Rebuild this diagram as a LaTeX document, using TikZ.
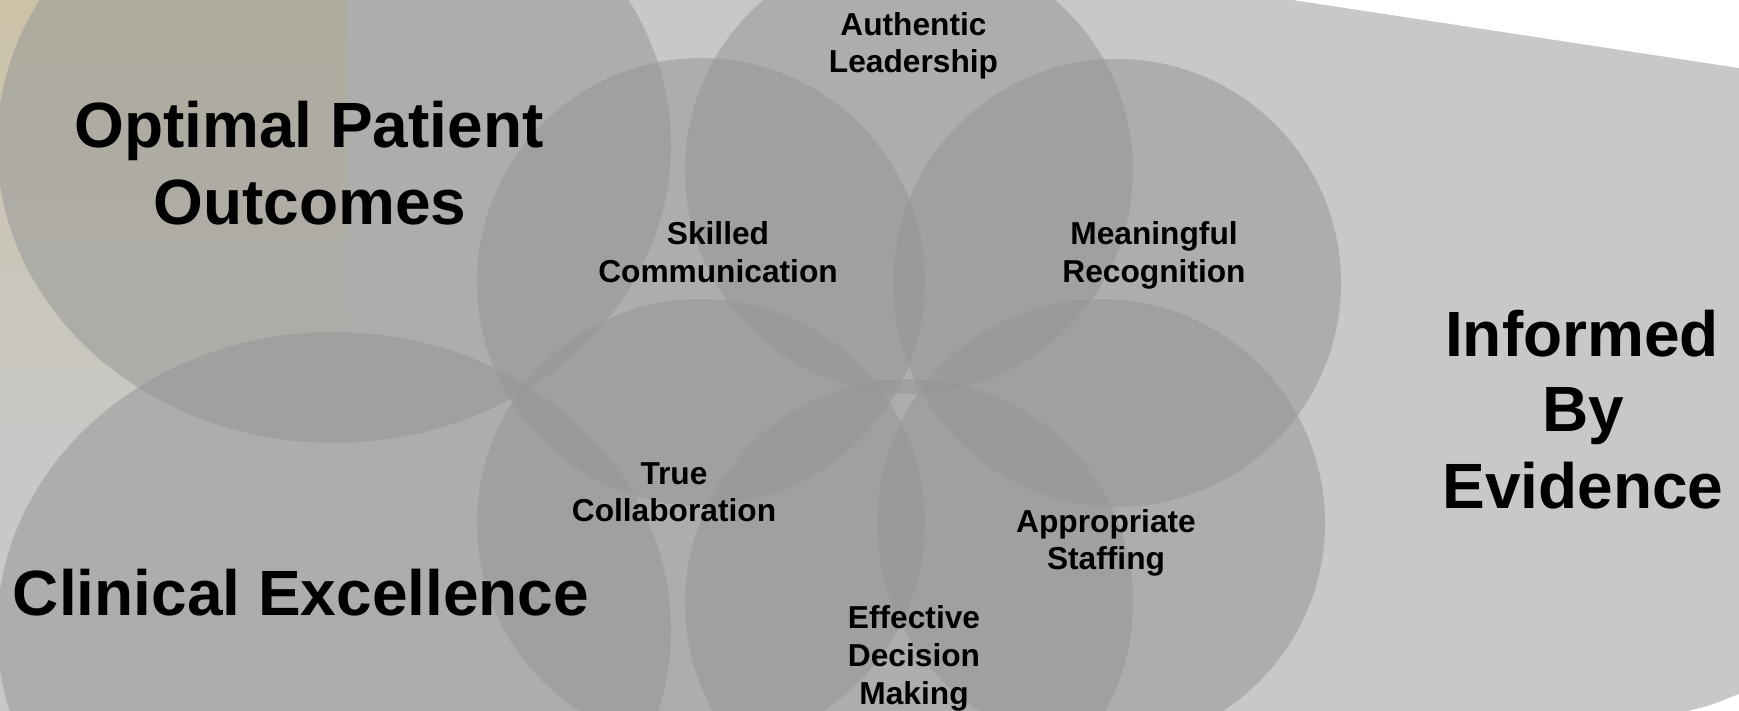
\documentclass[tikz,border=0pt]{standalone}
\usepackage{fontspec}
\setmainfont{Liberation Sans}
\usetikzlibrary{shadings}
\begin{document}
\begin{tikzpicture}[x=0.5pt,y=-0.5pt,
  bigtxt/.style={inner sep=0pt,anchor=base,font=\fontsize{32}{38}\selectfont\bfseries},
  smalltxt/.style={inner sep=0pt,anchor=base,font=\fontsize{15.85}{18}\selectfont\bfseries},
  disc/.style={fill=circfill,fill opacity=0.53}]
\definecolor{bgc}{RGB}{200,200,200}
\definecolor{circfill}{RGB}{150,150,150}
\definecolor{tanA}{RGB}{203,194,167}
\useasboundingbox (0,0) rectangle (1739,711);
\clip (0,0) rectangle (1739,711);
% background
\fill[bgc] (0,0) rectangle (1739,711);
\shade[top color=tanA,bottom color=bgc] (0,0) rectangle (348,470);
\fill[white] (1293,0) -- (1739,0) -- (1739,68) -- cycle;
\fill[white] (1688,711) .. controls (1712,705) .. (1739,694) -- (1739,711) -- cycle;
% large ellipses
\fill[disc] (334,145) ellipse [x radius=168.5pt,y radius=149pt];
\fill[disc] (334,630) ellipse [x radius=168.5pt,y radius=149pt];
% six circles
\fill[disc] (909,170) circle [radius=112pt];
\fill[disc] (701,282) circle [radius=112pt];
\fill[disc] (1117,283) circle [radius=112pt];
\fill[disc] (701,523) circle [radius=112pt];
\fill[disc] (1101,523) circle [radius=112pt];
\fill[disc] (909,603) circle [radius=112pt];
% large labels
\node[bigtxt] (opo1) at (309,148) {Optimal Patient};
\node[bigtxt] (opo2) at (310,225) {Outcomes};
\node[bigtxt] (ce) at (301,615) {Clinical Excellence};
\node[bigtxt] (ibe1) at (1582,356) {Informed};
\node[bigtxt] (ibe2) at (1583,431) {By};
\node[bigtxt] (ibe3) at (1583,508) {Evidence};
% small labels
\node[smalltxt] (al1) at (913.5,36) {Authentic};
\node[smalltxt] (al2) at (913.5,72.5) {Leadership};
\node[smalltxt] (sc1) at (718,245) {Skilled};
\node[smalltxt] (sc2) at (718,282) {Communication};
\node[smalltxt] (mr1) at (1154,245) {Meaningful};
\node[smalltxt] (mr2) at (1154,282) {Recognition};
\node[smalltxt] (tc1) at (674,484) {True};
\node[smalltxt] (tc2) at (674,521) {Collaboration};
\node[smalltxt] (as1) at (1106,532) {Appropriate};
\node[smalltxt] (as2) at (1106,569) {Staffing};
\node[smalltxt] (ed1) at (914,628) {Effective};
\node[smalltxt] (ed2) at (914,666) {Decision};
\node[smalltxt] (ed3) at (914,704) {Making};
\end{tikzpicture}
\end{document}
